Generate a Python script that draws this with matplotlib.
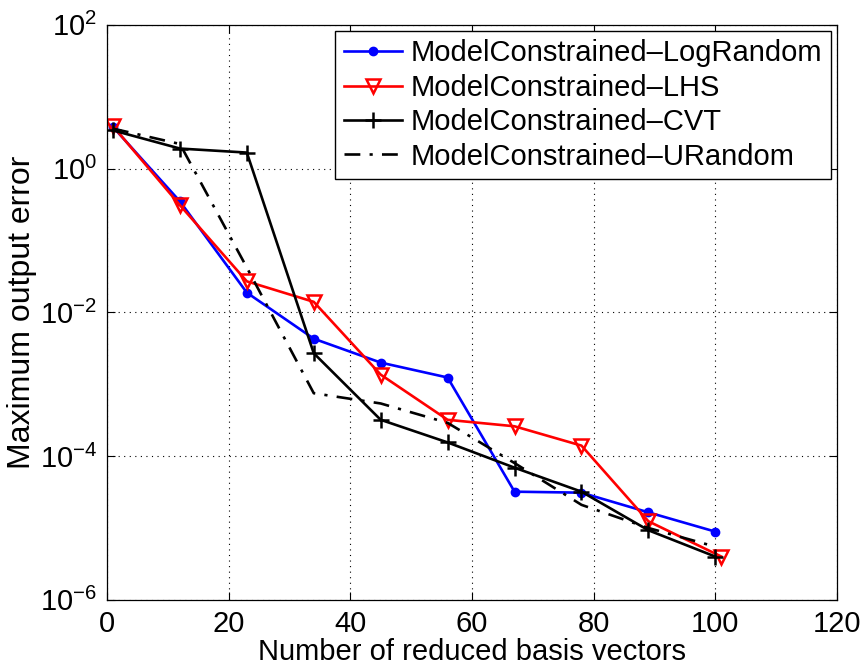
import matplotlib
matplotlib.use("Agg")
import matplotlib.pyplot as plt
from matplotlib.ticker import NullLocator

plt.rcParams['font.family'] = ['Liberation Sans', 'DejaVu Sans']
plt.rcParams['mathtext.fontset'] = 'custom'
plt.rcParams['mathtext.rm'] = 'Liberation Sans'

# data
x_std = [1, 12, 23, 34, 45, 56, 67, 78, 89, 100]
x_lhs = [1, 12, 23, 34, 45, 56, 67, 78, 89, 101]

err_lograndom = [3.8, 0.35, 0.0188, 0.0043, 0.0020, 0.00124, 3.2e-5, 3.1e-5, 1.65e-5, 8.9e-6]
err_lhs = [3.9, 0.31, 0.027, 0.014, 0.00136, 3.2e-4, 2.6e-4, 1.4e-4, 1.24e-5, 4.0e-6]
err_cvt = [3.4, 1.9, 1.67, 0.0027, 3.2e-4, 1.55e-4, 6.9e-5, 3.2e-5, 9.3e-6, 4.0e-6]
err_urandom = [3.6, 2.2, 0.042, 7.5e-4, 5.4e-4, 2.9e-4, 8.0e-5, 2.1e-5, 1.0e-5, 5.5e-6]

labels = ["ModelConstrained\u2013LogRandom",
          "ModelConstrained\u2013LHS",
          "ModelConstrained\u2013CVT",
          "ModelConstrained\u2013URandom"]

fig = plt.figure(figsize=(8.62, 6.71), dpi=100)
ax = fig.add_axes([0.124, 0.106, 0.847, 0.857])

lw = 1.9
ax.plot(x_std, err_lograndom, color='blue', lw=lw, marker='o', ms=6,
        label=labels[0])
ax.plot(x_lhs, err_lhs, color='red', lw=lw, marker='v', ms=10, mfc='none',
        mew=1.8, label=labels[1])
ax.plot(x_std, err_cvt, color='black', lw=lw, marker='+', ms=11, mew=1.8,
        label=labels[2])
ax.plot(x_std, err_urandom, color='black', lw=lw, ls=(0, (6, 3.5, 1.2, 3.5)),
        label=labels[3])

ax.set_yscale('log')
ax.set_xlim(0, 120)
ax.set_ylim(1e-6, 1e2)
ax.set_xticks([0, 20, 40, 60, 80, 100, 120])
ax.set_yticks([1e-6, 1e-4, 1e-2, 1e0, 1e2])
ax.yaxis.set_minor_locator(NullLocator())

ax.grid(True, which='major', color='black', ls=(0, (1, 4)), lw=0.8)
ax.tick_params(direction='in', top=True, right=True, labelsize=21, length=6,
               width=0.8, pad=7)
for s in ax.spines.values():
    s.set_linewidth(0.9)

ax.set_xlabel("Number of reduced basis vectors", fontsize=21, labelpad=0)
ax.set_ylabel("Maximum output error", fontsize=23, labelpad=2)

leg = ax.legend(loc='upper right', fontsize=21, frameon=True, fancybox=False,
                edgecolor='black', framealpha=1, handlelength=2.0,
                handletextpad=0.3, borderpad=0.3, labelspacing=0.22,
                borderaxespad=0.2)
leg.get_frame().set_linewidth(1.0)

fig.savefig("out.png", dpi=100)
